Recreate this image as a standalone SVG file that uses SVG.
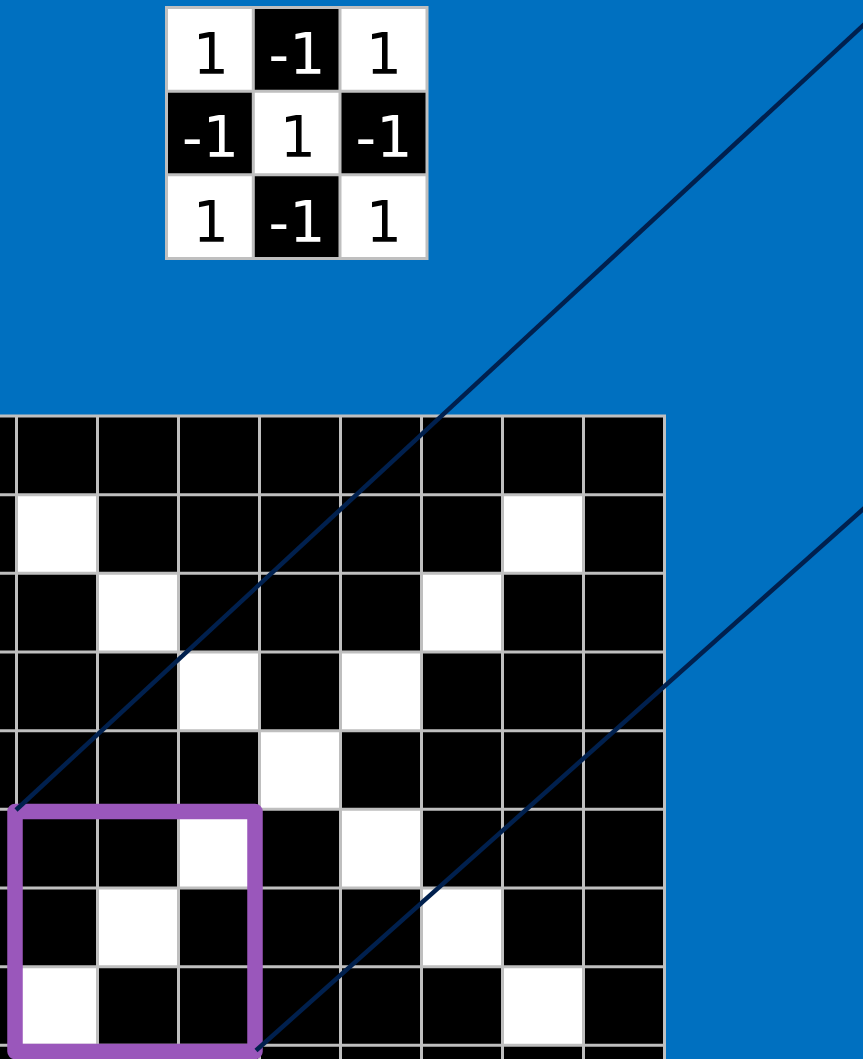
<svg xmlns="http://www.w3.org/2000/svg" width="863" height="1059" viewBox="0 0 863 1059">
<style>
.w{fill:#FFFFFF}
.b{fill:#000000}
.gl{stroke:#BFBFBF;stroke-width:3;fill:none}
.tk{font-family:"DejaVu Sans",sans-serif;font-size:57px;text-anchor:middle}
.tb{fill:#000000}
.tw{fill:#FFFFFF}
.conn{stroke:#00204E;stroke-width:4.5;fill:none}
</style>
<rect x="0" y="0" width="863" height="1059" fill="#0070C0"/>
<g id="kernel">
<rect class="w" x="166.5" y="7.5" width="86.8" height="83.7"/>
<rect class="b" x="253.3" y="7.5" width="86.7" height="83.7"/>
<rect class="w" x="340" y="7.5" width="87" height="83.7"/>
<rect class="b" x="166.5" y="91.2" width="86.8" height="83.6"/>
<rect class="w" x="253.3" y="91.2" width="86.7" height="83.6"/>
<rect class="b" x="340" y="91.2" width="87" height="83.6"/>
<rect class="w" x="166.5" y="174.8" width="86.8" height="83.7"/>
<rect class="b" x="253.3" y="174.8" width="86.7" height="83.7"/>
<rect class="w" x="340" y="174.8" width="87" height="83.7"/>
<path class="gl" d="M166.5 7.5H427V258.5H166.5Z M253.3 7.5V258.5 M340 7.5V258.5 M166.5 91.2H427 M166.5 174.8H427"/>
<text class="tk tb" x="211" y="73.5">1</text>
<text class="tk tw" x="297" y="73.5">-1</text>
<text class="tk tb" x="384" y="73.5">1</text>
<text class="tk tw" x="210.5" y="157">-1</text>
<text class="tk tb" x="298" y="157">1</text>
<text class="tk tw" x="384" y="157">-1</text>
<text class="tk tb" x="211" y="241.5">1</text>
<text class="tk tw" x="297" y="241.5">-1</text>
<text class="tk tb" x="384" y="241.5">1</text>
</g>
<g id="image-grid">
<rect class="b" x="-70" y="416" width="734.5" height="660"/>
<rect class="w" x="16.5" y="494.67" width="81" height="78.67"/>
<rect class="w" x="502.5" y="494.67" width="81" height="78.67"/>
<rect class="w" x="97.5" y="573.33" width="81" height="78.67"/>
<rect class="w" x="421.5" y="573.33" width="81" height="78.67"/>
<rect class="w" x="178.5" y="652" width="81" height="78.67"/>
<rect class="w" x="340.5" y="652" width="81" height="78.67"/>
<rect class="w" x="259.5" y="730.67" width="81" height="78.67"/>
<rect class="w" x="178.5" y="809.33" width="81" height="78.67"/>
<rect class="w" x="340.5" y="809.33" width="81" height="78.67"/>
<rect class="w" x="97.5" y="888" width="81" height="78.67"/>
<rect class="w" x="421.5" y="888" width="81" height="78.67"/>
<rect class="w" x="16.5" y="966.67" width="81" height="78.67"/>
<rect class="w" x="502.5" y="966.67" width="81" height="78.67"/>
<path class="gl" d="M16.5 416V1070 M97.5 416V1070 M178.5 416V1070 M259.5 416V1070 M340.5 416V1070 M421.5 416V1070 M502.5 416V1070 M583.5 416V1070 M664.5 416V1070 M-10 416H666 M-10 494.67H666 M-10 573.33H666 M-10 652H666 M-10 730.67H666 M-10 809.33H666 M-10 888H666 M-10 966.67H666 M-10 1045.33H666"/>
</g>
<g id="window">
<rect x="15" y="811.5" width="240" height="240" fill="none" stroke="#9A57BB" stroke-width="15.5" stroke-linejoin="round"/>
</g>
<g id="connectors">
<line class="conn" x1="16" y1="810" x2="870" y2="19"/>
<line class="conn" x1="256" y1="1050.5" x2="870" y2="503"/>
</g>
</svg>
